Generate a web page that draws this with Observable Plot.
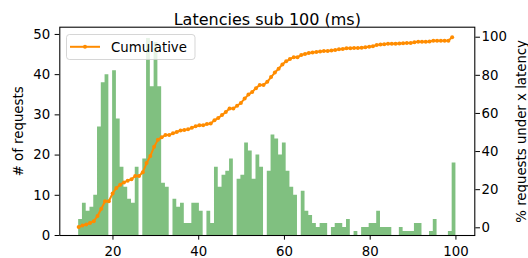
<!DOCTYPE html>
<html>
<head>
<meta charset="utf-8">
<script src="https://cdn.jsdelivr.net/npm/d3@7"></script>
<script src="https://cdn.jsdelivr.net/npm/@observablehq/plot@0.6"></script>
<style>
  html, body { margin: 0; padding: 0; background: #fff; }
  #chart svg { display: block; font-family: "DejaVu Sans", sans-serif; }
</style>
</head>
<body>
<div id="chart"></div>
<script>
// ---- data ----
const latencies = [12,13,14,15,16,17,18,19,20,21,22,23,24,25,26,27,28,29,30,31,
  32,33,34,35,36,37,38,39,40,41,42,43,44,45,46,47,48,49,50,51,
  52,53,54,55,56,57,58,59,60,61,62,63,64,65,66,67,68,69,70,71,
  72,73,74,75,76,77,78,79,80,81,82,83,84,85,86,87,88,89,90,91,
  92,93,94,95,96,97,98,99,100];
const counts = [4,8,6,7,10,27,38,40,41,29,17,12,9,8,17,19,49,37,48,37,
  13,12,9,7,8,3,3,8,8,6,6,3,17,12,15,16,19,14,15,23,
  21,14,20,17,16,25,24,20,23,16,12,10,11,6,5,3,2,3,3,2,
  3,3,2,4,0,1,2,2,3,3,6,2,2,2,0,2,1,1,1,3,
  3,0,1,4,0,0,0,1,18];
const xTicks = [20, 40, 60, 80, 100];
const countTicks = [0, 10, 20, 30, 40, 50];
const pctTicks = [0, 20, 40, 60, 80, 100];
const titleText = "Latencies sub 100 (ms)";
const leftLabel = "# of requests";
const rightLabel = "% requests under x latency";
const legendLabel = "Cumulative";

// ---- histogram with 100 equal bins over [min, max] ----
const nBins = 100;
const lo = d3.min(latencies), hi = d3.max(latencies);
const w = (hi - lo) / nBins;
const binCounts = new Array(nBins).fill(0);
latencies.forEach((v, i) => {
  const k = Math.min(nBins - 1, Math.floor((v - lo) / w + 1e-9));
  binCounts[k] += counts[i];
});
// step outline of the histogram (left edge of each bin, plus the closing edge)
const steps = binCounts.map((c, k) => ({x: lo + k * w, count: c}));
steps.push({x: hi, count: binCounts[nBins - 1]});
const total = d3.sum(counts);
const cumCounts = d3.cumsum(binCounts);
const cum = binCounts.map((c, k) => ({x: lo + k * w, pct: cumCounts[k] / total * 100}));

// ---- twin axis mapping ----
const cDomain = [0, 51.8];
const pDomain = [-4.04, 105.25];
const toLeft = p => (p - pDomain[0]) / (pDomain[1] - pDomain[0]) * (cDomain[1] - cDomain[0]) + cDomain[0];
const fromLeft = c => (c - cDomain[0]) / (cDomain[1] - cDomain[0]) * (pDomain[1] - pDomain[0]) + pDomain[0];

const orange = "darkorange";
const barColor = "#80c080"; // matplotlib green at alpha 0.5 on white
const fs = 13.3;

const svg = Plot.plot({
  width: 528,
  height: 258,
  marginLeft: 59.3,
  marginRight: 53.7,
  marginTop: 26.7,
  marginBottom: 23,
  x: {domain: [7.6, 104.4]},
  y: {domain: cDomain},
  style: {fontFamily: "DejaVu Sans", fontSize: fs + "px", color: "#000", background: "#fff"},
  marks: [
    Plot.areaY(steps, {x: "x", y: "count", curve: "step-after", fill: barColor}),
    Plot.line(cum, {x: "x", y: d => toLeft(d.pct), stroke: orange, strokeWidth: 2}),
    Plot.dot(cum, {x: "x", y: d => toLeft(d.pct), r: 2, fill: orange, stroke: null}),
    Plot.frame({stroke: "#000", strokeWidth: 1.07}),
    Plot.axisX(xTicks, {tickSize: 4.67, tickPadding: 6, label: null, fontSize: fs}),
    Plot.axisY(countTicks, {anchor: "left", tickSize: 4.67, tickPadding: 5, label: null, fontSize: fs}),
    Plot.axisY(pctTicks.map(toLeft), {anchor: "right", tickSize: 4.67, tickPadding: 2, label: null, fontSize: fs,
      tickFormat: d => String(Math.round(fromLeft(d)))}),
    Plot.text([titleText], {frameAnchor: "top", dy: -13.5, fontSize: 16, textAnchor: "middle", text: d => d}),
    Plot.text([leftLabel], {frameAnchor: "left", rotate: -90, dx: -40.8, textAnchor: "middle", fontSize: fs, text: d => d}),
    Plot.text([rightLabel], {frameAnchor: "right", rotate: -90, dx: 46.7, textAnchor: "middle", fontSize: fs, text: d => d})
  ]
});

// ---- legend (upper left, matplotlib style) ----
const g = d3.select(svg).append("g");
g.append("rect").attr("x", 66.5).attr("y", 34.5).attr("width", 128.5).attr("height", 25)
  .attr("rx", 3).attr("fill", "#fff").attr("fill-opacity", 0.8)
  .attr("stroke", "#ccc").attr("stroke-opacity", 0.8);
g.append("line").attr("x1", 70).attr("x2", 100).attr("y1", 46.8).attr("y2", 46.8)
  .attr("stroke", orange).attr("stroke-width", 2);
g.append("circle").attr("cx", 85).attr("cy", 46.8).attr("r", 2).attr("fill", orange);
g.append("text").attr("x", 111).attr("y", 51.5).attr("font-size", fs).attr("fill", "#000")
  .attr("text-anchor", "start").text(legendLabel);

document.getElementById("chart").appendChild(svg);
</script>
</body>
</html>
